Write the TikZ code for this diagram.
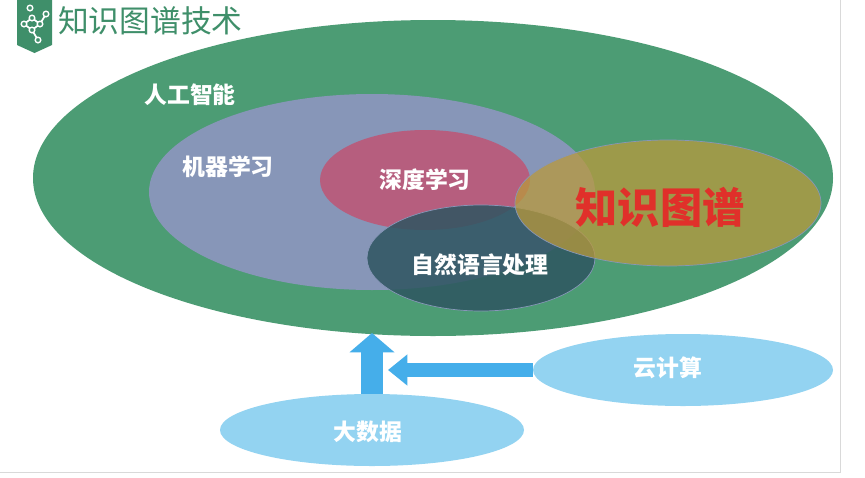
\documentclass[tikz,border=0pt]{standalone}
\usepackage{fontspec}
\newfontfamily\cjk{Noto Sans CJK SC}
\usetikzlibrary{positioning,calc,arrows.meta,shapes.geometric}
\definecolor{aigreen}{HTML}{4C9C74}
\definecolor{mlblue}{HTML}{8796B8}
\definecolor{dlpink}{HTML}{B65E7E}
\definecolor{nlpdark}{HTML}{2E5561}
\definecolor{kgolive}{HTML}{B99A3C}
\definecolor{skyblue}{HTML}{93D3F1}
\definecolor{arrowblue}{HTML}{45AEEA}
\definecolor{titlegreen}{HTML}{3F8F6A}
\definecolor{kgred}{HTML}{E0302A}
\tikzset{
  blob/.style 2 args={ellipse,inner sep=0pt,minimum width=#1*0.02cm,minimum height=#2*0.02cm},
  lbl/.style={text=white,font=\cjk\bfseries\fontsize{13}{15}\selectfont},
  bigarrow/.style={arrowblue,-{Triangle[width=#1,length=11pt]}},
}
\begin{document}
\begin{tikzpicture}[x=0.02cm,y=-0.02cm]
        \useasboundingbox (0,0) rectangle (865,477);
        \fill[white] (0,0) rectangle (865,477);
        \draw[gray!30] (0,472) -- (840,472) -- (840,0);

        % logo and title
        \fill[titlegreen] (17,0) -- (52,0) -- (52,45) -- (34.5,53) -- (17,45) -- cycle;
        \foreach \a/\b/\c/\d in {24/24/32/18, 32/18/40/24, 40/24/32/30, 32/30/24/24, 32/30/38/40, 40/24/46/14}
            \draw[white,line width=1pt] (\a,\b) -- (\c,\d);
        \foreach \p/\q in {24/24, 32/18, 40/24, 32/30, 38/40, 46/14, 30/8}
            \draw[white,fill=titlegreen,line width=0.8pt] (\p,\q) circle (2.8);
        \node[anchor=west,text=titlegreen,font=\cjk\fontsize{17.5}{20}\selectfont] (title) at (52,21) {知识图谱技术};

        % main ellipses
        \node[blob={800}{316},fill=aigreen] (ai) at (433,178) {};
        \node[blob={446}{196},fill=mlblue] (ml) at (372,192) {};
        \node[blob={210}{100},fill=dlpink] (dl) at (425,180) {};
        \node[blob={228}{106},fill=nlpdark,fill opacity=0.85,draw=mlblue] (nlp) at (481,258) {};
        \node[blob={306}{126},fill=kgolive,fill opacity=0.75,draw=mlblue] (kg) at (668,203) {};

        \node[lbl] (ailabel) at (190,95) {人工智能};
        \node[lbl] (mllabel) at (228,167) {机器学习};
        \node[lbl] (dllabel) at (425,180) {深度学习};
        \node[lbl] (nlplabel) at (480,265) {自然语言处理};
        \node[text=kgred,font=\cjk\bfseries\fontsize{24}{28}\selectfont] (kglabel) at (660,207) {知识图谱};

        % supporting technologies
        \node[blob={300}{72},fill=skyblue] (cloud) at (683,370) {};
        \node[blob={304}{72},fill=skyblue] (data) at (372,430) {};
        \node[lbl] (cloudlabel) at (668,368) {云计算};
        \node[lbl] (datalabel) at (368,432) {大数据};

        \coordinate (uptip) at (372,333);
        \coordinate (lefttip) at (388,370);
        \draw[bigarrow=25pt,line width=12pt] (data.north) -- (uptip);
        \draw[bigarrow=17pt,line width=8pt] (cloud.west) -- (lefttip);
\end{tikzpicture}
\end{document}
